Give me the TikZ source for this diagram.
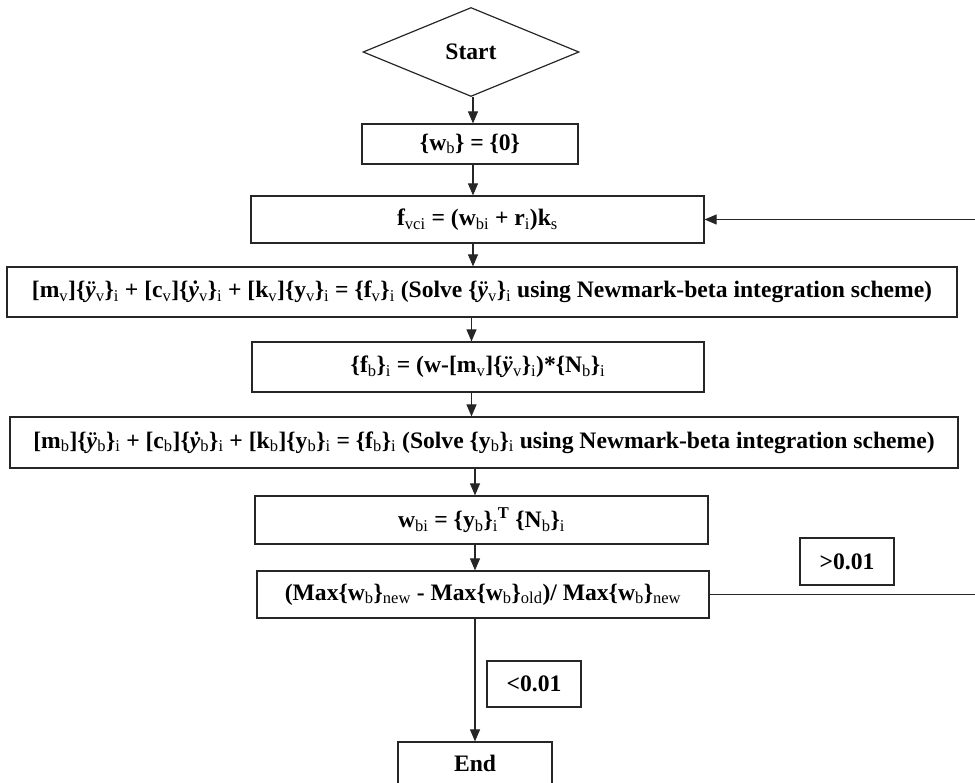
\documentclass[tikz,border=0pt]{standalone}
\usepackage{fontspec}
\setmainfont{Liberation Serif}
\usetikzlibrary{arrows.meta,shapes.geometric}
\newcommand\subx[1]{\textsubscript{\mdseries #1}}
\newcommand\supx[1]{\textsuperscript{#1}}
\begin{document}
\begin{tikzpicture}[x=1pt,y=-1pt,
  every node/.style={font=\fontsize{23.6}{27}\selectfont\bfseries, text=black},
  boxnode/.style={draw=black!85, line width=1.2pt, rectangle, inner sep=0pt},
  dianode/.style={draw=black!85, line width=1.2pt, diamond, aspect=2.43, inner sep=0pt, minimum width=216pt, minimum height=89pt},
  arr/.style={draw=black!85, line width=1.1pt, -{Triangle[length=12pt,width=10pt]}},
]
\clip (0,0) rectangle (975,783);
\node[dianode] (start) at (471,52) {Start};
\node[boxnode, minimum width=216pt, minimum height=40pt] (b1) at (470,144) {\{w\subx{b}\} = \{0\}};
\node[boxnode, minimum width=453pt, minimum height=47pt] (b2) at (477.5,219.5) {f\subx{vci} = (w\subx{bi} + r\subx{i})k\subx{s}};
\node[boxnode, minimum width=950pt, minimum height=50pt] (b3) at (482,292) {[m\subx{v}]\{\textit{ÿ}\subx{v}\}\subx{i} + [c\subx{v}]\{\textit{ẏ}\subx{v}\}\subx{i} + [k\subx{v}]\{y\subx{v}\}\subx{i} = \{f\subx{v}\}\subx{i} (Solve \{\textit{ÿ}\subx{v}\}\subx{i} using Newmark-beta integration scheme)};
\node[boxnode, minimum width=452pt, minimum height=50pt] (b4) at (478,367) {\{f\subx{b}\}\subx{i} = (w-[m\subx{v}]\{\textit{ÿ}\subx{v}\}\subx{i})*\{N\subx{b}\}\subx{i}};
\node[boxnode, minimum width=948pt, minimum height=51pt] (b5) at (484,442.5) {[m\subx{b}]\{\textit{ÿ}\subx{b}\}\subx{i} + [c\subx{b}]\{\textit{ẏ}\subx{b}\}\subx{i} + [k\subx{b}]\{y\subx{b}\}\subx{i} = \{f\subx{b}\}\subx{i} (Solve \{y\subx{b}\}\subx{i} using Newmark-beta integration scheme)};
\node[boxnode, minimum width=453pt, minimum height=48pt] (b6) at (481.5,520) {w\subx{bi} = \{y\subx{b}\}\subx{i}\supx{T} \{N\subx{b}\}\subx{i}};
\node[boxnode, minimum width=452pt, minimum height=47pt] (b7) at (483,594.5) {(Max\{w\subx{b}\}\subx{new} - Max\{w\subx{b}\}\subx{old})/ Max\{w\subx{b}\}\subx{new}};
\node[boxnode, minimum width=94pt, minimum height=47pt] (gt) at (847,561.5) {>0.01};
\node[boxnode, minimum width=94pt, minimum height=46pt] (lt) at (534,684) {<0.01};
\node[boxnode, minimum width=154pt, minimum height=42pt] (end) at (475,763) {End};
\coordinate (xa) at (473,0);
\coordinate (xb) at (471.5,0);
\coordinate (xc) at (475,0);
\coordinate (fb) at (980,400);
\draw[arr] (start.south -| xa) -- (b1.north -| xa);
\draw[arr] (b1.south -| xa) -- (b2.north -| xa);
\draw[arr] (b2.south -| xa) -- (b3.north -| xa);
\draw[arr] (b3.south -| xb) -- (b4.north -| xb);
\draw[arr] (b4.south -| xb) -- (b5.north -| xb);
\draw[arr] (b5.south -| xc) -- (b6.north -| xc);
\draw[arr] (b6.south -| xc) -- (b7.north -| xc);
\draw[arr] (b7.south -| xc) -- (end.north -| xc);
\draw[arr, line width=1pt] (b7.east) -| (fb) |- (b2.east);
\end{tikzpicture}
\end{document}
